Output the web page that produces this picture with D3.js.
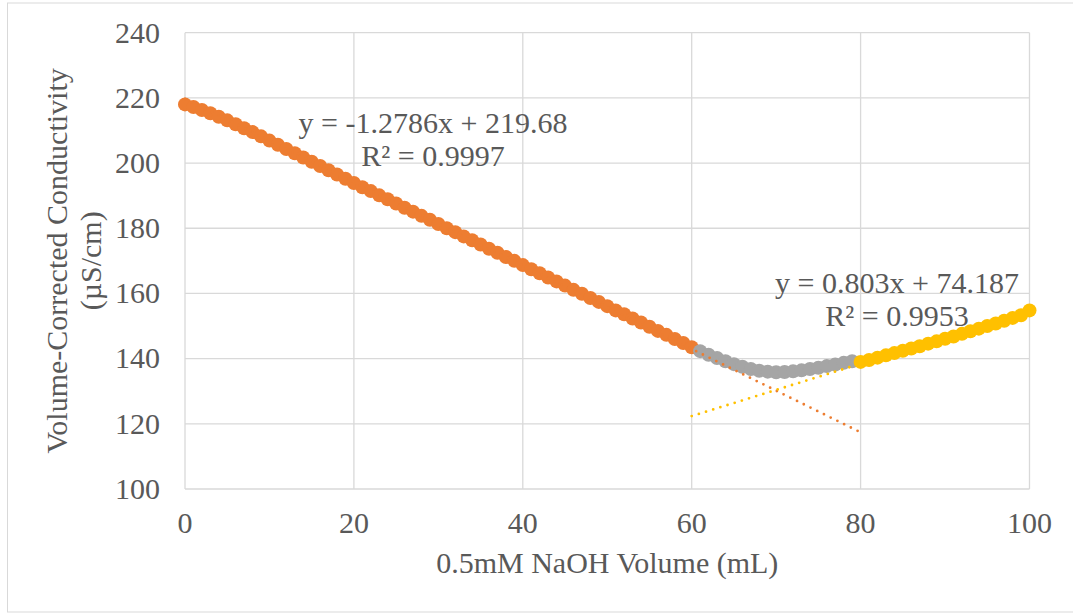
<!DOCTYPE html>
<html><head><meta charset="utf-8">
<script src="https://cdn.jsdelivr.net/npm/d3@7"></script>
<style>body{margin:0;background:#fff}svg{display:block}</style>
</head><body>
<script>
// Data
const orangeX = d3.range(0, 61);
const orangeY = [218.0,217.2,216.3,215.3,214.2,213.1,211.9,210.7,209.5,208.2,
  206.9,205.6,204.3,203.0,201.7,200.4,199.1,197.8,196.5,195.2,
  193.9,192.6,191.4,190.1,188.9,187.6,186.3,185.1,183.8,182.6,
  181.3,180.0,178.8,177.5,176.3,175.0,173.7,172.5,171.2,170.0,
  168.7,167.4,166.2,164.9,163.7,162.4,161.1,159.9,158.6,157.4,
  156.1,154.8,153.6,152.3,151.1,149.8,148.5,147.3,146.0,144.8,143.5];
const grayX = d3.range(61, 80);
const grayY = [142.3,141.2,140.2,139.2,138.3,137.5,136.8,136.3,136.0,135.8,
  135.9,136.1,136.4,136.8,137.2,137.7,138.2,138.7,139.2];
const yellowX = d3.range(80, 101);
const yellowY = [139.0,139.6,140.3,141.0,141.7,142.4,143.1,143.8,144.6,145.3,
  146.1,146.8,147.6,148.4,149.2,150.0,150.8,151.6,152.5,153.3,154.8];
// Trendlines (from displayed equations)
const trendOrange = {slope:-1.2786, intercept:219.68, from:0, to:80};
const trendYellow = {slope:0.803, intercept:74.187, from:60, to:100};
const xTicks = [0,20,40,60,80,100];
const yTicks = [100,120,140,160,180,200,220,240];

const W=1073,H=614;
const svg=d3.select("body").append("svg").attr("width",W).attr("height",H);
svg.append("rect").attr("x",7.5).attr("y",3).attr("width",1070).attr("height",609)
  .attr("fill","#fff").attr("stroke","#D9D9D9");

const x=d3.scaleLinear().domain([0,100]).range([185,1029.5]);
const y=d3.scaleLinear().domain([100,240]).range([489,32.7]);
const font="'Liberation Serif','Times New Roman',serif";
const txt="#595959";
const fs=30;

// gridlines
svg.append("g").selectAll("line").data(yTicks).join("line")
  .attr("x1",x(0)).attr("x2",x(100)).attr("y1",d=>y(d)).attr("y2",d=>y(d))
  .attr("stroke","#D9D9D9").attr("stroke-width",1.3);
svg.append("g").selectAll("line").data(xTicks).join("line")
  .attr("y1",y(100)).attr("y2",y(240)).attr("x1",d=>x(d)).attr("x2",d=>x(d))
  .attr("stroke","#D9D9D9").attr("stroke-width",1.3);

// tick labels
svg.append("g").selectAll("text").data(yTicks).join("text")
  .attr("x",160).attr("y",d=>y(d)+9.8).attr("text-anchor","end")
  .attr("font-family",font).attr("font-size",fs).attr("fill",txt).text(d=>d);
svg.append("g").selectAll("text").data(xTicks).join("text")
  .attr("x",d=>x(d)).attr("y",533).attr("text-anchor","middle")
  .attr("font-family",font).attr("font-size",fs).attr("fill",txt).text(d=>d);

// axis titles
svg.append("text").attr("x",(x(0)+x(100))/2).attr("y",573).attr("text-anchor","middle")
  .attr("font-family",font).attr("font-size",fs).attr("fill",txt).text("0.5mM NaOH Volume (mL)");
const yt=svg.append("g").attr("transform",`translate(67,${(y(100)+y(240))/2}) rotate(-90)`);
yt.append("text").attr("x",0).attr("y",0).attr("text-anchor","middle")
  .attr("font-family",font).attr("font-size",fs).attr("fill",txt).text("Volume-Corrected Conductivity");
yt.append("text").attr("x",0).attr("y",34).attr("text-anchor","middle")
  .attr("font-family",font).attr("font-size",fs).attr("fill",txt).text("(µS/cm)");

// points
function series(xs,ys,color){
  svg.append("g").selectAll("circle").data(xs.map((d,i)=>[d,ys[i]])).join("circle")
    .attr("cx",d=>x(d[0])).attr("cy",d=>y(d[1])).attr("r",7).attr("fill",color);
}
series(orangeX,orangeY,"#ED7D31");
series(grayX,grayY,"#A5A5A5");
series(yellowX,yellowY,"#FFC000");

// trendlines
function trend(t,color){
  const pts=[t.from,t.to].map(v=>[v,t.slope*v+t.intercept]);
  svg.append("path").attr("d",d3.line().x(d=>x(d[0])).y(d=>y(d[1]))(pts))
    .attr("stroke",color).attr("stroke-width",2.8).attr("fill","none")
    .attr("stroke-dasharray","0 7.5").attr("stroke-linecap","round");
}
trend(trendOrange,"#ED7D31");
trend(trendYellow,"#FFC000");

// equation labels
function label(cx,by,lines){
  lines.forEach((l,i)=>svg.append("text").attr("x",cx).attr("y",by+i*32.5).attr("text-anchor","middle")
    .attr("font-family",font).attr("font-size",fs).attr("fill",txt).text(l));
}
label(433,133,["y = -1.2786x + 219.68","R² = 0.9997"]);
label(897,293,["y = 0.803x + 74.187","R² = 0.9953"]);
</script>
</body></html>
